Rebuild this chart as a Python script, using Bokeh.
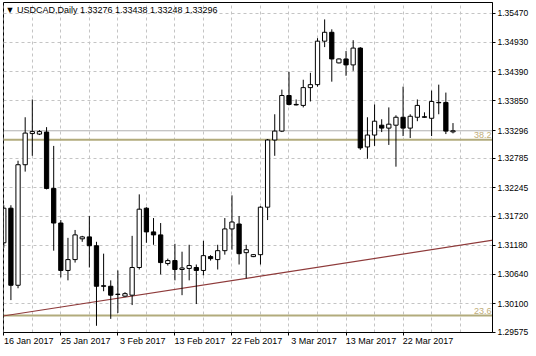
from bokeh.plotting import figure
from bokeh.models import (Range1d, FixedTicker, Span, Slope, Label,
                          ColumnDataSource, PrintfTickFormatter)
from bokeh.embed import file_html
from bokeh.resources import INLINE

# ---------------- data ----------------
symbol = "USDCAD,Daily"
header_ohlc = ["1.33276", "1.33438", "1.33248", "1.33296"]

# daily bars, bar 0 = 16 Jan 2017 (broker feed with Sunday bars)
opens = [1.31225, 1.31864, 1.30439, 1.32668, 1.33244, 1.33235, 1.33272, 1.32230,
         1.31590, 1.30713, 1.30914, 1.31298, 1.31334, 1.31170, 1.30430, 1.30421,
         1.30274, 1.30238, 1.30256, 1.30768, 1.31864, 1.31426, 1.31371, 1.30841,
         1.30896, 1.30731, 1.30750, 1.30768, 1.30713, 1.30969, 1.30914, 1.31079,
         1.31481, 1.31572, 1.31042, 1.30969, 1.31005, 1.31883, 1.33125, 1.33290,
         1.33948, 1.33783, 1.33765, 1.34094, 1.34149, 1.34953, 1.35117, 1.34551,
         1.34624, 1.34514, 1.34825, 1.32997, 1.33217, 1.33399, 1.33345, 1.33399,
         1.33546, 1.33345, 1.33546, 1.33555, 1.33527, 1.33820, 1.33820, 1.33276]
highs = [1.31919, 1.31919, 1.32742, 1.33546, 1.33875, 1.33308, 1.33363, 1.33016,
         1.31645, 1.31316, 1.31462, 1.31353, 1.31718, 1.31243, 1.31024, 1.30530,
         1.30713, 1.30311, 1.31353, 1.32120, 1.31883, 1.31682, 1.31590, 1.30932,
         1.31206, 1.31060, 1.31188, 1.30823, 1.31261, 1.30996, 1.31188, 1.31682,
         1.32102, 1.31718, 1.31188, 1.31015, 1.31901, 1.33144, 1.33601, 1.34057,
         1.34386, 1.33875, 1.34240, 1.34368, 1.35008, 1.35355, 1.35172, 1.34633,
         1.34770, 1.34971, 1.34843, 1.33546, 1.33783, 1.33509, 1.33728, 1.33582,
         1.34112, 1.33601, 1.33875, 1.33637, 1.34039, 1.34149, 1.34002, 1.33438]
lows = [1.31133, 1.30165, 1.30384, 1.32541, 1.32833, 1.33217, 1.32212, 1.31079,
        1.30585, 1.30530, 1.30859, 1.31243, 1.30768, 1.29690, 1.30329, 1.29818,
        1.29927, 1.30220, 1.30073, 1.30731, 1.31225, 1.31188, 1.30640, 1.30804,
        1.30530, 1.30256, 1.30530, 1.30092, 1.30622, 1.30896, 1.30731, 1.31005,
        1.31097, 1.30823, 1.30567, 1.30960, 1.30823, 1.31645, 1.32833, 1.33272,
        1.33765, 1.33765, 1.33728, 1.33838, 1.34112, 1.34843, 1.34204, 1.34542,
        1.34313, 1.34405, 1.32943, 1.32778, 1.33016, 1.33272, 1.33034, 1.32632,
        1.33198, 1.33162, 1.33473, 1.33537, 1.33198, 1.33601, 1.33235, 1.33248]
closes = [1.31864, 1.30439, 1.32668, 1.33253, 1.33281, 1.33281, 1.32230, 1.31590,
          1.30713, 1.30914, 1.31371, 1.31334, 1.31170, 1.30421, 1.30421, 1.30256,
          1.30269, 1.30284, 1.30768, 1.31846, 1.31426, 1.31371, 1.30859, 1.30896,
          1.30731, 1.30759, 1.30804, 1.30713, 1.30987, 1.30932, 1.31079, 1.31481,
          1.31609, 1.31024, 1.31097, 1.31005, 1.31883, 1.33125, 1.33290, 1.33948,
          1.33783, 1.33774, 1.34094, 1.34149, 1.34953, 1.35117, 1.34624, 1.34624,
          1.34514, 1.34825, 1.32979, 1.33217, 1.33473, 1.33345, 1.33418, 1.33546,
          1.33345, 1.33564, 1.33765, 1.33546, 1.33838, 1.33814, 1.33290, 1.33296]

date_labels = ["16 Jan 2017", "25 Jan 2017", "3 Feb 2017", "13 Feb 2017",
               "22 Feb 2017", "3 Mar 2017", "13 Mar 2017", "22 Mar 2017"]
date_bar_index = [0, 8, 16, 24, 32, 40, 48, 56]
price_ticks = [1.35470, 1.34930, 1.34390, 1.33850, 1.32785, 1.32245,
               1.31720, 1.31180, 1.30640, 1.30100, 1.29575]
bid_price = 1.33296
fib_levels = ["38.2", "23.6"]
fib_prices = [1.33131, 1.29878]
trend_anchor_bars = [17, 34]          # trend line drawn through these two lows

# ---------------- chart ----------------
FONT = "Liberation Sans"
n = len(opens)
bars = list(range(n))
src = ColumnDataSource(dict(
    x=bars, h=highs, l=lows,
    top=[max(o, c) for o, c in zip(opens, closes)],
    bottom=[min(o, c) for o, c in zip(opens, closes)],
    fill=["white" if c >= o else "black" for o, c in zip(opens, closes)],
))

p = figure(frame_width=489, frame_height=330,
           x_range=Range1d(-0.04, 68.54), y_range=Range1d(1.295658, 1.356679),
           y_axis_location="right", toolbar_location=None, output_backend="svg",
           min_border_left=3, min_border_top=2, min_border_right=0, min_border_bottom=0)
p.outline_line_color = "black"
p.outline_line_alpha = 1.0
p.background_fill_color = "white"
p.border_fill_color = "white"

# grids
p.xgrid.ticker = FixedTicker(ticks=list(range(0, 65, 4)))
p.ygrid.ticker = FixedTicker(ticks=price_ticks)
p.grid.grid_line_color = "#c4c4c4"
p.grid.grid_line_dash = "3 3"
p.grid.grid_line_width = 1

# right price axis (scale ticks plus the current bid price)
p.yaxis.ticker = FixedTicker(ticks=price_ticks + [bid_price])
p.yaxis.formatter = PrintfTickFormatter(format="%.5f")
p.yaxis.major_tick_out = 3
p.yaxis.major_tick_in = 0
p.yaxis.minor_tick_out = 0
p.yaxis.minor_tick_in = 0
p.yaxis.major_label_standoff = 2
p.yaxis.major_label_text_font = FONT
p.yaxis.major_label_text_font_size = "8.5px"
p.yaxis.major_label_text_color = "black"
p.yaxis.axis_line_color = "black"
p.yaxis.major_tick_line_color = "black"

# bottom date axis: labels sit to the right of their tick marks
label_pos = [b + 3.5 for b in date_bar_index]
p.xaxis.ticker = FixedTicker(ticks=label_pos, minor_ticks=date_bar_index)
p.xaxis.major_label_overrides = {lp: lab for lp, lab in zip(label_pos, date_labels)}
p.xaxis.major_tick_out = 0
p.xaxis.major_tick_in = 0
p.xaxis.minor_tick_out = 3
p.xaxis.minor_tick_in = 0
p.xaxis.minor_tick_line_color = "black"
p.xaxis.major_label_standoff = 0
p.xaxis.major_label_text_font = FONT
p.xaxis.major_label_text_font_size = "9px"
p.xaxis.major_label_text_color = "black"
p.xaxis.axis_line_color = "black"

# horizontal levels and trend line (behind candles)
p.add_layout(Span(location=bid_price, dimension="width", line_color="#b0b0b0",
                  line_width=1, level="underlay"))
for lvl, fp in zip(fib_levels, fib_prices):
    p.add_layout(Span(location=fp, dimension="width", line_color="#b2ab7c",
                      line_width=2, level="underlay"))
    p.add_layout(Label(x=68.4, y=fp, text=lvl, text_align="right", text_baseline="bottom",
                       y_offset=2, text_color="#bfae7a", text_font=FONT,
                       text_font_size="9px"))
a, b = trend_anchor_bars
grad = (lows[b] - lows[a]) / (b - a)
p.add_layout(Slope(gradient=grad, y_intercept=lows[a] - grad * a,
                   line_color="#8e3a3a", line_width=1.2, level="underlay"))

# candles
p.segment(x0="x", y0="h", x1="x", y1="l", source=src, line_color="black", line_width=1)
p.vbar(x="x", width=0.6, top="top", bottom="bottom", source=src,
       fill_color="fill", line_color="black", line_width=1)

# header (inside the frame)
p.add_layout(Label(x=2, y=328, x_units="screen", y_units="screen",
                   text="\u25bc " + symbol + "  " + " ".join(header_ohlc),
                   text_baseline="top", text_font=FONT, text_font_size="9px",
                   text_color="black"))

open("out.html", "w").write(file_html(p, INLINE))
